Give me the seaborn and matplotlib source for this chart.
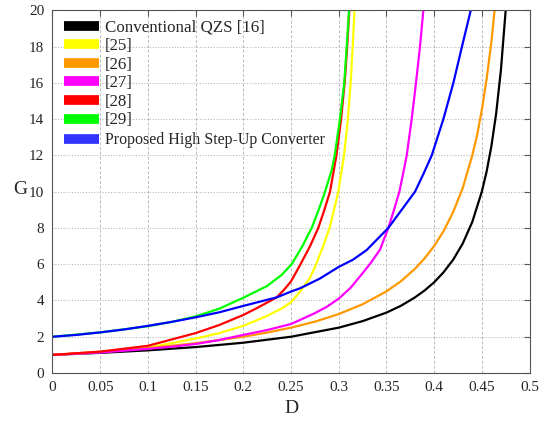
import pandas as pd
import numpy as np
import seaborn as sns
import matplotlib.pyplot as plt
from matplotlib.lines import Line2D

# values (D, G pairs per curve)
qzs_d = [0, 0.05, 0.1, 0.15, 0.2, 0.25, 0.3, 0.325, 0.35, 0.365, 0.38, 0.39, 0.4, 0.41, 0.42, 0.43,
         0.44, 0.45, 0.455, 0.46, 0.465, 0.47, 0.475]
qzs_g = [1, 1.11, 1.25, 1.43, 1.67, 2.0, 2.5, 2.86, 3.33, 3.7, 4.17, 4.55, 5.0, 5.56, 6.25, 7.14,
         8.33, 10, 11.1, 12.5, 14.3, 16.7, 20]

r25_d = [0, 0.05, 0.1, 0.15, 0.175, 0.2, 0.225, 0.24, 0.25, 0.2594, 0.27, 0.276, 0.283, 0.2905,
         0.2996, 0.3056, 0.3096, 0.3125, 0.3147, 0.3165]
r25_g = [1, 1.15, 1.4, 1.9, 2.2, 2.6, 3.15, 3.55, 3.9, 4.48, 5.25, 5.95, 6.9, 8, 10, 12, 14, 16, 18, 20]

r26_d = [0, 0.05, 0.1, 0.15, 0.2, 0.225, 0.25, 0.275, 0.3, 0.325, 0.35, 0.365, 0.38, 0.39, 0.4,
         0.41, 0.42, 0.43, 0.44, 0.445, 0.45, 0.455, 0.46, 0.4634]
r26_g = [1, 1.17, 1.375, 1.64, 2.0, 2.23, 2.5, 2.83, 3.25, 3.79, 4.5, 5.05, 5.75, 6.32, 7.0,
         7.83, 8.88, 10.2, 12, 13.1, 14.5, 16.2, 18.25, 20]

r27_d = [0, 0.05, 0.1, 0.125, 0.15, 0.175, 0.2, 0.225, 0.25, 0.275, 0.2875, 0.3, 0.3125, 0.325,
         0.334, 0.3433, 0.352, 0.358, 0.3636, 0.3675, 0.3713, 0.3765, 0.381, 0.3852, 0.3887]
r27_g = [1, 1.13, 1.33, 1.45, 1.6, 1.82, 2.1, 2.37, 2.7, 3.3, 3.65, 4.1, 4.7, 5.5,
         6.1, 6.8, 8, 9.0, 10, 11, 12, 14, 16, 18, 20]

r28_d = [0, 0.05, 0.1, 0.15, 0.175, 0.2, 0.215, 0.235, 0.242, 0.25, 0.26, 0.27, 0.2786, 0.285,
         0.2909, 0.2976, 0.3025, 0.3062, 0.3089, 0.3111]
r28_g = [1, 1.18, 1.5, 2.2, 2.65, 3.2, 3.6, 4.17, 4.55, 5.05, 6, 7.0, 8, 9.0,
         10, 12, 14, 16, 18, 20]

r29_d = [0, 0.05, 0.1, 0.125, 0.15, 0.175, 0.2, 0.225, 0.24, 0.2507, 0.262, 0.2717, 0.279, 0.2857,
         0.2927, 0.2958, 0.3013, 0.3058, 0.3084, 0.3108]
r29_g = [2.0, 2.24, 2.58, 2.82, 3.12, 3.55, 4.15, 4.8, 5.4, 6, 7.0, 8, 9.0, 10,
         11.2, 12, 14, 16, 18, 20]

prop_d = [0, 0.025, 0.05, 0.075, 0.1, 0.125, 0.15, 0.175, 0.2, 0.235, 0.25, 0.2594, 0.28, 0.3,
          0.315, 0.3293, 0.352, 0.366, 0.38, 0.389, 0.3975, 0.4097, 0.4202, 0.4292, 0.4384]
prop_g = [2.0, 2.1, 2.24, 2.4, 2.6, 2.82, 3.07, 3.35, 3.7, 4.17, 4.49, 4.67, 5.2, 5.85,
          6.25, 6.78, 8, 9.0, 10, 11, 12, 14, 16, 18, 20]

names = ['Conventional QZS [16]', '[25]', '[26]', '[27]', '[28]', '[29]',
         'Proposed High Step-Up Converter']
colors = ['#000000', '#ffff00', '#ff9900', '#ff00ff', '#ff0000', '#00ff00', '#0000ff']
legend_colors = ['#000000', '#ffff00', '#ff9900', '#ff00ff', '#ff0000', '#00ff00', '#3333ff']
series = [(qzs_d, qzs_g), (r25_d, r25_g), (r26_d, r26_g), (r27_d, r27_g),
          (r28_d, r28_g), (r29_d, r29_g), (prop_d, prop_g)]

rows = []
for name, (d, g) in zip(names, series):
    for x, y in zip(d, g):
        rows.append({'D': x, 'G': y, 'curve': name})
df = pd.DataFrame(rows)

sns.set_style('white')
plt.rcParams['font.family'] = ['Liberation Serif', 'DejaVu Serif']

fig = plt.figure(figsize=(5.4, 4.22), dpi=100)
ax = fig.add_axes([0.0972, 0.1161, 0.8834, 0.8595])

sns.lineplot(data=df, x='D', y='G', hue='curve', palette=dict(zip(names, colors)),
             hue_order=names, sort=False, estimator=None, linewidth=1.6,
             legend=False, ax=ax)

ax.set_xlim(0, 0.5)
ax.set_ylim(0, 20)
ax.set_xticks(np.arange(0, 0.501, 0.05))
ax.set_xticklabels(['0', '0.05', '0.1', '0.15', '0.2', '0.25', '0.3', '0.35', '0.4', '0.45', '0.5'])
ax.set_yticks(np.arange(0, 21, 2))
ax.tick_params(direction='in', top=True, right=True, length=4, width=0.8,
               color='#555555', labelsize=11, pad=6)
ax.xaxis.grid(True, linestyle=(0, (3, 2)), color='#bbbbbb', linewidth=0.7)
ax.yaxis.grid(True, linestyle=(0, (1, 1.5)), color='#bbbbbb', linewidth=0.8)
ax.set_axisbelow(True)
for s in ax.spines.values():
    s.set_color('#555555')
    s.set_linewidth(0.8)

ax.set_xlabel('D', fontsize=14, labelpad=4)
ax.set_ylabel('G', fontsize=14, rotation=0, va='center')
ax.yaxis.set_label_coords(-0.068, 0.505)

handles = [Line2D([0], [0], color=c, lw=7, solid_capstyle='butt') for c in legend_colors]
leg1 = ax.legend(handles[:6], names[:6], loc='upper left', bbox_to_anchor=(0.024, 0.974),
                 frameon=False, fontsize=12.2, handlelength=2.05, handletextpad=0.35,
                 labelspacing=0.15, borderaxespad=0, borderpad=0)
ax.add_artist(leg1)
ax.legend(handles[6:], names[6:], loc='upper left', bbox_to_anchor=(0.024, 0.664),
          frameon=False, fontsize=11.5, handlelength=2.2, handletextpad=0.4,
          borderaxespad=0, borderpad=0)

fig.savefig('out.png', dpi=100)
